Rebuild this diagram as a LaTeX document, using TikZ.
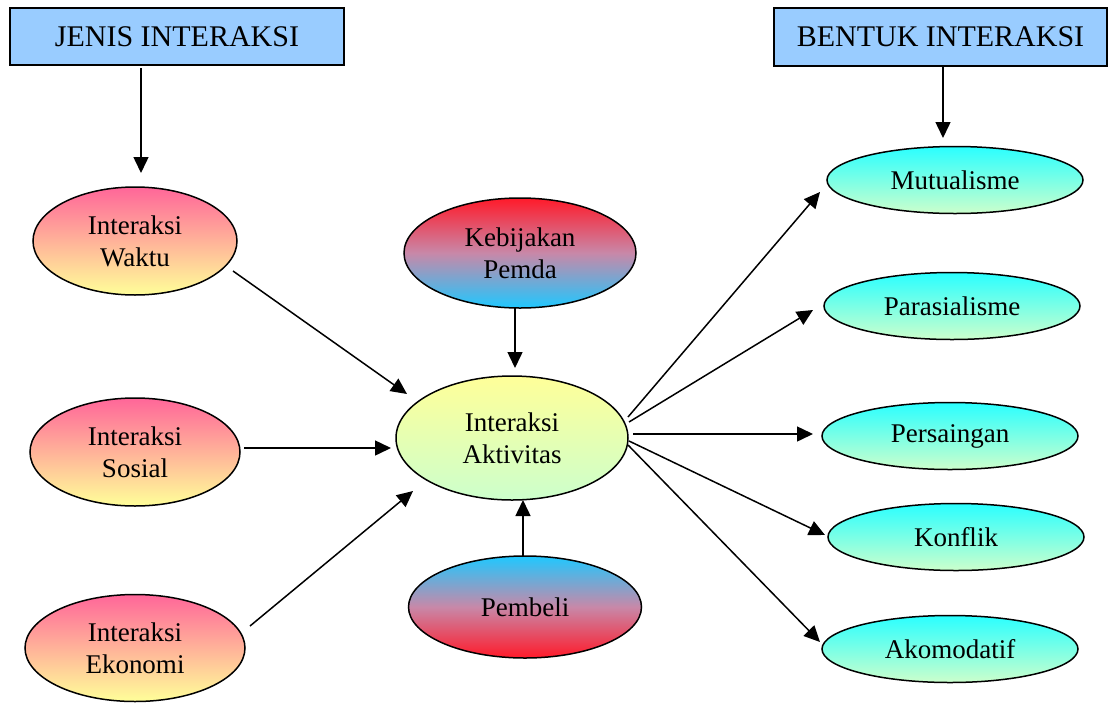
\documentclass[tikz,border=0pt]{standalone}
\usepackage{fontspec}
\setmainfont{Liberation Serif}
\usetikzlibrary{arrows.meta,calc,shapes.geometric}
\definecolor{hdrblue}{HTML}{99CCFF}
\definecolor{pinktop}{HTML}{FF6699}
\definecolor{yellowbot}{HTML}{FFFF99}
\definecolor{redc}{HTML}{FF1A2A}
\definecolor{cyanc}{HTML}{1FC8FF}
\definecolor{mauve}{HTML}{C888A8}
\definecolor{palegreen}{HTML}{CCFFCC}
\definecolor{aqua}{HTML}{2AFFFF}
\begin{document}
\begin{tikzpicture}[x=1pt,y=-1pt,
  hdr/.style={draw=black, line width=1.5pt, fill=hdrblue, inner sep=0pt,
    minimum width=334pt, minimum height=57pt, font=\fontsize{30}{34}\selectfont},
  ell/.style={ellipse, draw=black, line width=1.5pt, inner sep=0pt, align=center,
    font=\fontsize{27}{32}\selectfont},
  leftell/.style={ell, top color=pinktop, bottom color=yellowbot},
  rightell/.style={ell, top color=aqua, bottom color=palegreen,
    minimum width=256pt, minimum height=67pt},
  arr/.style={-{Triangle[length=16pt,width=15pt]}, line width=1.5pt}
]
\useasboundingbox (0,0) rectangle (1109,702);

% header boxes
\node[hdr] (jenis) at (177,36.5) {JENIS INTERAKSI};
\node[hdr, minimum width=333pt, minimum height=58pt] (bentuk) at (940.5,37) {BENTUK INTERAKSI};

% left ellipses
\node[leftell, minimum width=204pt, minimum height=108pt] (w) at (135,241) {Interaksi\\Waktu};
\node[leftell, minimum width=210pt, minimum height=108pt] (s) at (135,452) {Interaksi\\Sosial};
\node[leftell, minimum width=220pt, minimum height=107pt] (e) at (135,648) {Interaksi\\Ekonomi};

% centre
\node[ell, top color=redc, bottom color=cyanc, middle color=mauve, minimum width=232pt, minimum height=110pt] (k) at (520,253) {Kebijakan\\Pemda};
\node[ell, top color=yellowbot, bottom color=palegreen, minimum width=232pt, minimum height=124pt] (act) at (512,438) {Interaksi\\Aktivitas};
\node[ell, top color=cyanc, bottom color=redc, middle color=mauve, minimum width=233pt, minimum height=102pt] (p) at (525,607) {Pembeli};

% right ellipses
\node[rightell] (mu) at (955,180) {Mutualisme};
\node[rightell] (pa) at (952,306) {Parasialisme};
\node[rightell] (pe) at (950,436) {Persaingan};
\node[rightell] (ko) at (956,537) {Konflik};
\node[rightell] (ak) at (950,649) {Akomodatif};

% connectors
\draw[arr] ($(jenis)+(-36,31.5)$) -- ($(w)+(6,-68)$);
\draw[arr] ($(bentuk)+(2.5,30)$) -- ($(mu)+(-12,-42)$);
\draw[arr] ($(k)+(-5,55)$) -- ($(act)+(3,-70)$);
\draw[arr] ($(p)+(-2,-50)$) -- ($(act)+(11,62)$);

\draw[arr] ($(w)+(98,30)$) -- ($(act)+(-105,-44)$);
\draw[arr] ($(s)+(109,-4)$) -- ($(act)+(-121,10)$);
\draw[arr] ($(e)+(115,-22)$) -- ($(act)+(-99,53)$);

\draw[arr] ($(act)+(116,-21)$) -- ($(mu)+(-135,12)$);
\draw[arr] ($(act)+(117,-16)$) -- ($(pa)+(-139,4)$);
\draw[arr] ($(act)+(121,-4)$) -- ($(pe)+(-137,-2)$);
\draw[arr] ($(act)+(117,3)$) -- ($(ko)+(-131,-2)$);
\draw[arr] ($(act)+(116,7)$) -- ($(ak)+(-130,-7)$);
\end{tikzpicture}
\end{document}
